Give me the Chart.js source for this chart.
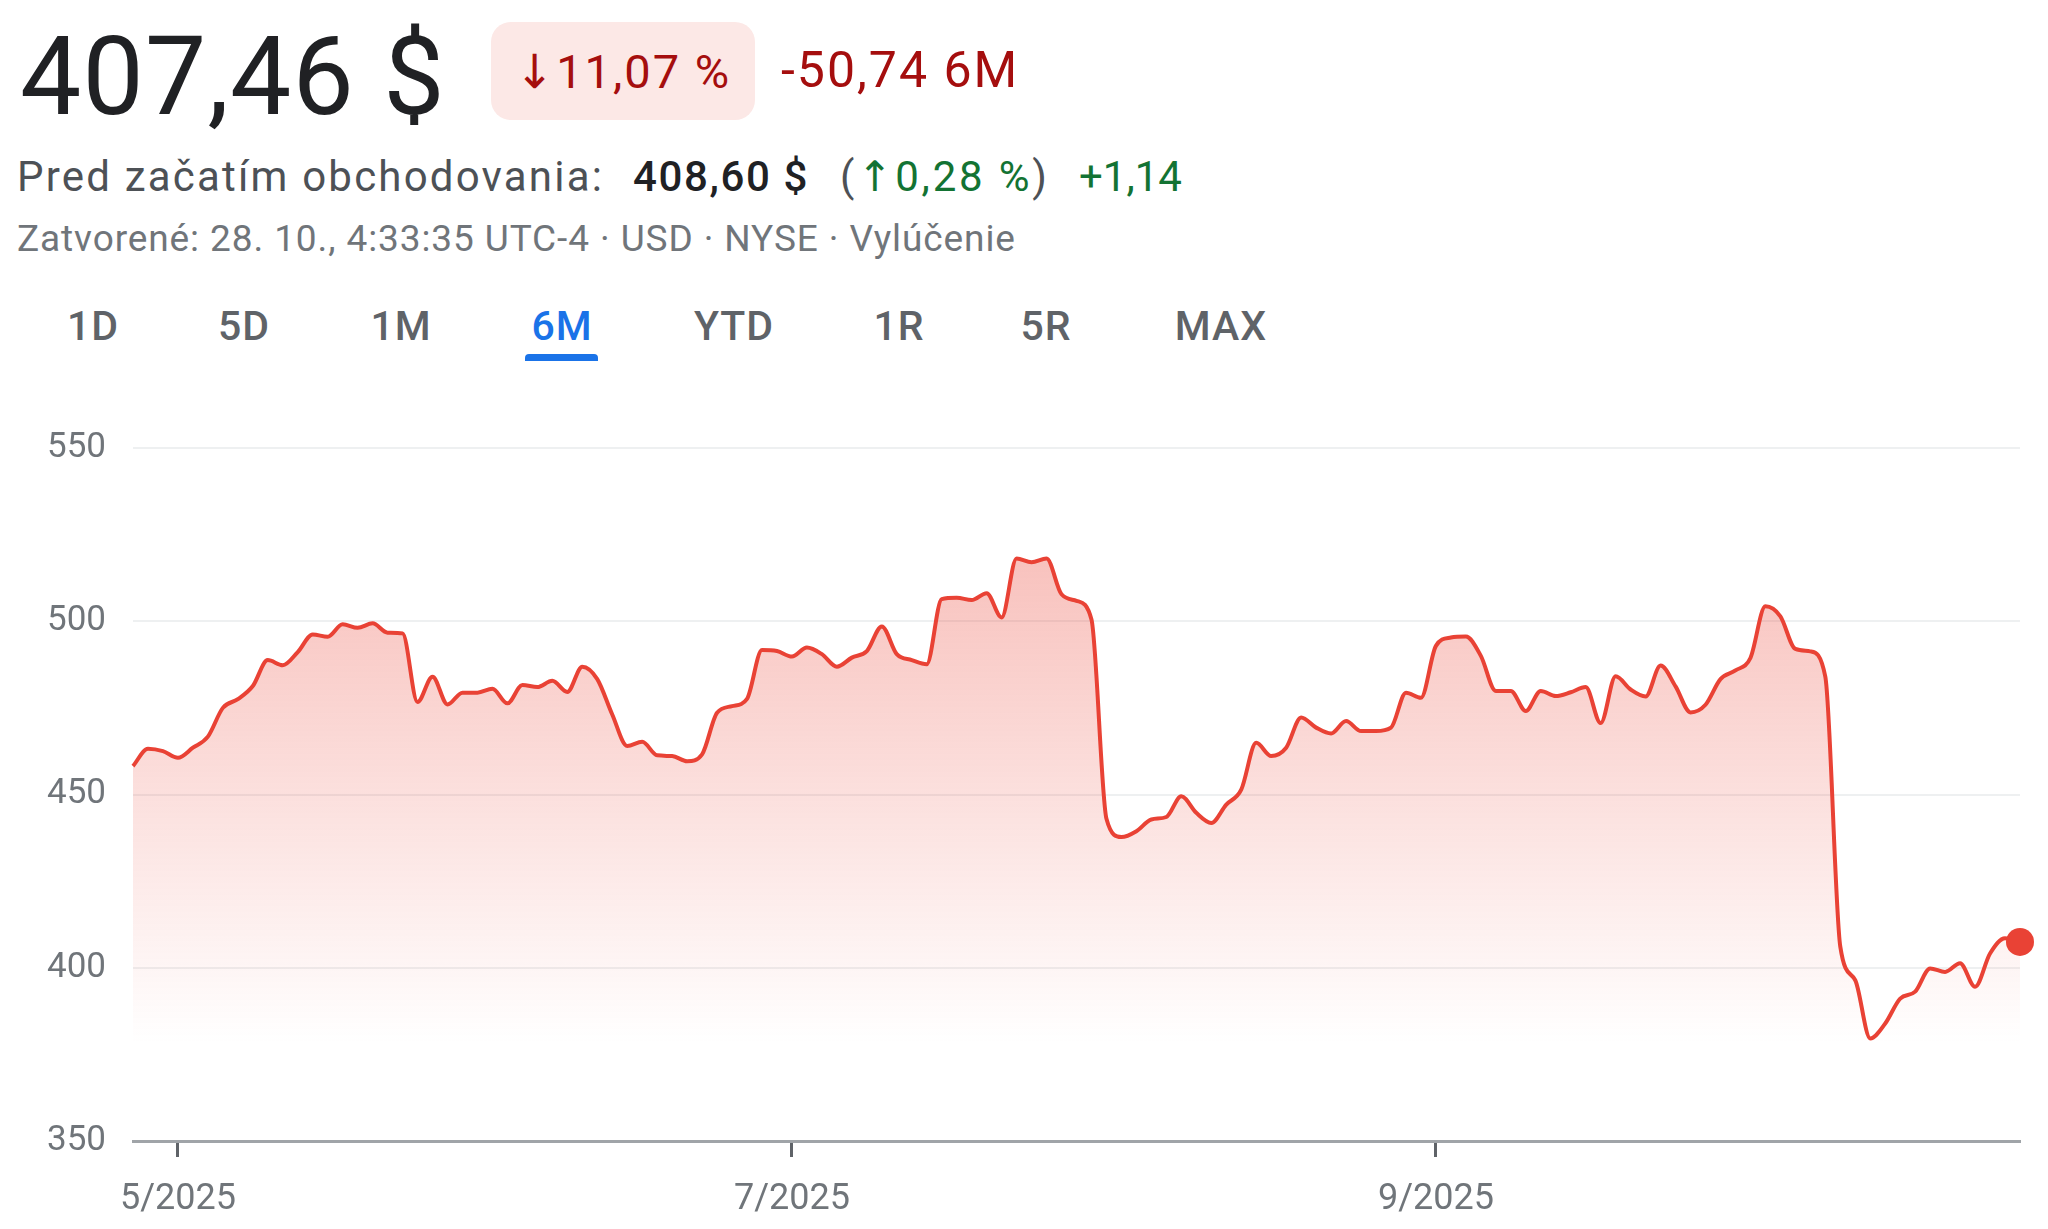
<!DOCTYPE html>
<html lang="sk">
<head>
<meta charset="utf-8">
<title>407,46 $ - 6M</title>
<script src="https://cdn.jsdelivr.net/npm/chart.js@4.4.1/dist/chart.umd.min.js"></script>
<style>
  html, body { margin: 0; padding: 0; background: #fff; }
  body { width: 2048px; height: 1229px; position: relative; overflow: hidden; font-family: Roboto, "Noto Sans", "DejaVu Sans", sans-serif; }
  .abs { position: absolute; line-height: 1; white-space: nowrap; }
  .price { left: 20px; top: 23px; font-size: 109px; letter-spacing: 1.2px; color: #202124; }
  .pill { left: 491px; top: 22px; width: 264px; height: 98px; background: #fce8e6; border-radius: 20px;
          display: flex; align-items: center; justify-content: center; font-size: 47px; letter-spacing: 2px; color: #a50e0e; }
  .change { left: 781px; top: 45px; font-size: 50px; letter-spacing: 2px; color: #a50e0e; }
  .pre { top: 156px; font-size: 42px; letter-spacing: 2.2px; color: #4d5156; }
  .green { color: #137333; }
  .dark { color: #202124; font-weight: 500; letter-spacing: 1.6px; }
  .closed { left: 17px; top: 220px; font-size: 37px; letter-spacing: 0.9px; color: #70757a; }
  .tab { top: 306px; width: 200px; text-align: center; font-size: 41px; letter-spacing: 1px; font-weight: 500; color: #5f6368; }
  .tab.active { color: #1a73e8; }
  .underline { left: 525px; top: 354px; width: 73px; height: 7px; background: #1a73e8; border-radius: 4px 4px 0 0; }
  #wrap { position: absolute; left: 0; top: 400px; width: 2048px; height: 829px; }
</style>
</head>
<body>

<div class="abs price">407,46 $</div>
<div class="abs pill">↓11,07 %</div>
<div class="abs change">-50,74 6M</div>

<div class="abs pre" style="left:17px">Pred začatím obchodovania:</div>
<div class="abs pre dark" style="left:633px">408,60 $</div>
<div class="abs pre" style="left:840px; letter-spacing:2.8px">(<span class="green">↑0,28 %</span>)</div>
<div class="abs pre green" style="left:1079px; letter-spacing:0">+1,14</div>

<div class="abs closed">Zatvorené: 28. 10., 4:33:35 UTC-4 · USD · NYSE · Vylúčenie</div>

<div id="tabs"></div>
<div class="abs underline"></div>

<div id="wrap"><canvas id="chart"></canvas></div>

<script>
//range buttons above the chart
const rangeTabs = ["1D", "5D", "1M", "6M", "YTD", "1R", "5R", "MAX"];
const tabCenters = [93, 244, 401, 562, 734, 899, 1046, 1221];
const activeTab = "6M";

let tabsBox = document.getElementById("tabs");
rangeTabs.forEach(function (name, i) {
  let el = document.createElement("div");
  el.className = "abs tab" + (name === activeTab ? " active" : "");
  el.style.left = tabCenters[i] - 100 + "px";
  el.textContent = name;
  tabsBox.appendChild(el);
});

//trading days of the 6M window (weekends and NYSE holidays skipped)
const firstDay = "2025-04-28";
const lastDay = "2025-10-27";
const holidays = ["2025-05-26", "2025-06-19", "2025-07-04", "2025-09-01"];

function tradingDays(from, to) {
  let days = [];
  let d = new Date(from + "T12:00:00Z");
  let end = new Date(to + "T12:00:00Z");
  while (d <= end) {
    let iso = d.toISOString().slice(0, 10);
    let wd = d.getUTCDay();
    if (wd !== 0 && wd !== 6 && !holidays.includes(iso)) days.push(iso);
    d.setUTCDate(d.getUTCDate() + 1);
  }
  return days;
}
const days = tradingDays(firstDay, lastDay);

//daily close
const closes = [
  458.2, 463.2, 462.5, 460.6, 463.5, 466.7, 475.0, 477.5, 481.3, 488.8,
  487.3, 491.1, 496.2, 495.5, 499.1, 498.1, 499.4, 496.7, 496.5, 476.7,
  484.0, 476.0, 479.4, 479.4, 480.5, 476.3, 481.6, 481.0, 482.8, 479.6,
  486.9, 483.3, 473.1, 464.0, 465.2, 461.3, 461.1, 459.6, 461.6, 473.6,
  475.5, 477.6, 491.7, 491.4, 489.8, 492.4, 490.5, 486.9, 489.5, 491.4,
  498.5, 490.5, 488.8, 487.6, 506.4, 506.8, 506.1, 508.1, 501.1, 518.1,
  517.0, 518.1, 507.8, 505.9, 500.5, 443.0, 437.7, 439.4, 442.8, 443.5,
  449.5, 444.7, 441.8, 447.1, 451.4, 464.9, 461.1, 463.5, 472.2, 469.3,
  467.6, 471.2, 468.3, 468.3, 469.3, 479.4, 477.9, 492.9, 495.3, 495.6,
  490.0, 479.9, 479.9, 474.1, 479.9, 478.4, 479.5, 481.0, 470.6, 484.1,
  480.3, 478.3, 487.2, 481.2, 473.7, 475.9, 483.3, 485.8, 489.4, 504.3,
  501.4, 492.0, 491.3, 484.0, 406.1, 396.4, 379.6, 383.9, 391.1, 393.1,
  399.8, 398.8, 401.3, 394.5, 404.1, 408.5, 407.46
];

//axis labels
const tickDates = ["2025-05-01", "2025-07-01", "2025-09-02"];
const tickLabels = ["5/2025", "7/2025", "9/2025"];
const yTicks = [350, 400, 450, 500, 550];

const red = "#e94235";
const labelGray = "#70757a";
const lastIdx = closes.length - 1;

//pink fade under the line
function fillGradient(context) {
  let chart = context.chart;
  if (!chart.chartArea) return "rgba(234,67,53,0.25)";
  let y = chart.scales.y;
  let g = chart.ctx.createLinearGradient(0, y.getPixelForValue(520), 0, y.getPixelForValue(378));
  g.addColorStop(0, "rgba(234,67,53,0.33)");
  g.addColorStop(1, "rgba(234,67,53,0)");
  return g;
}

const config = {
  type: "line",
  data: {
    labels: days,
    datasets: [
      {
        data: closes,
        borderColor: red,
        borderWidth: 4,
        fill: "start",
        backgroundColor: fillGradient,
        cubicInterpolationMode: "monotone",
        pointRadius: (ctx) => (ctx.dataIndex === lastIdx ? 14 : 0),
        pointHoverRadius: 0,
        pointBackgroundColor: red,
        pointBorderWidth: 0,
      },
    ],
  },
  options: {
    animation: false,
    responsive: true,
    maintainAspectRatio: false,
    layout: { padding: { top: 48, right: 28, left: 0, bottom: 0 } },
    plugins: { legend: { display: false }, tooltip: { enabled: false } },
    scales: {
      x: {
        type: "category",
        offset: false,
        grid: { drawOnChartArea: false, drawTicks: true, tickLength: 16, tickWidth: 3, tickColor: "#5f6368" },
        border: { display: true, color: "#a0a4a8", width: 3 },
        ticks: {
          autoSkip: false,
          maxRotation: 0,
          padding: 21,
          color: labelGray,
          font: { family: "Roboto", size: 36 },
          callback: function (value) {
            let k = tickDates.indexOf(this.getLabelForValue(value));
            return k >= 0 ? tickLabels[k] : "";
          },
        },
        afterBuildTicks: function (axis) {
          axis.ticks = axis.ticks.filter((t) => tickDates.includes(days[t.value]));
        },
        afterFit: function (axis) {
          axis.height = 88;
        },
      },
      y: {
        min: yTicks[0],
        max: yTicks[yTicks.length - 1],
        grid: { color: "#eef0f1", lineWidth: 2, drawTicks: false },
        border: { display: false },
        ticks: {
          stepSize: 50,
          padding: 27,
          color: labelGray,
          font: { family: "Roboto", size: 35 },
        },
        afterFit: function (axis) {
          axis.width = 133;
        },
      },
    },
  },
};

let priceChart = new Chart(document.getElementById("chart"), config);
</script>
</body>
</html>
